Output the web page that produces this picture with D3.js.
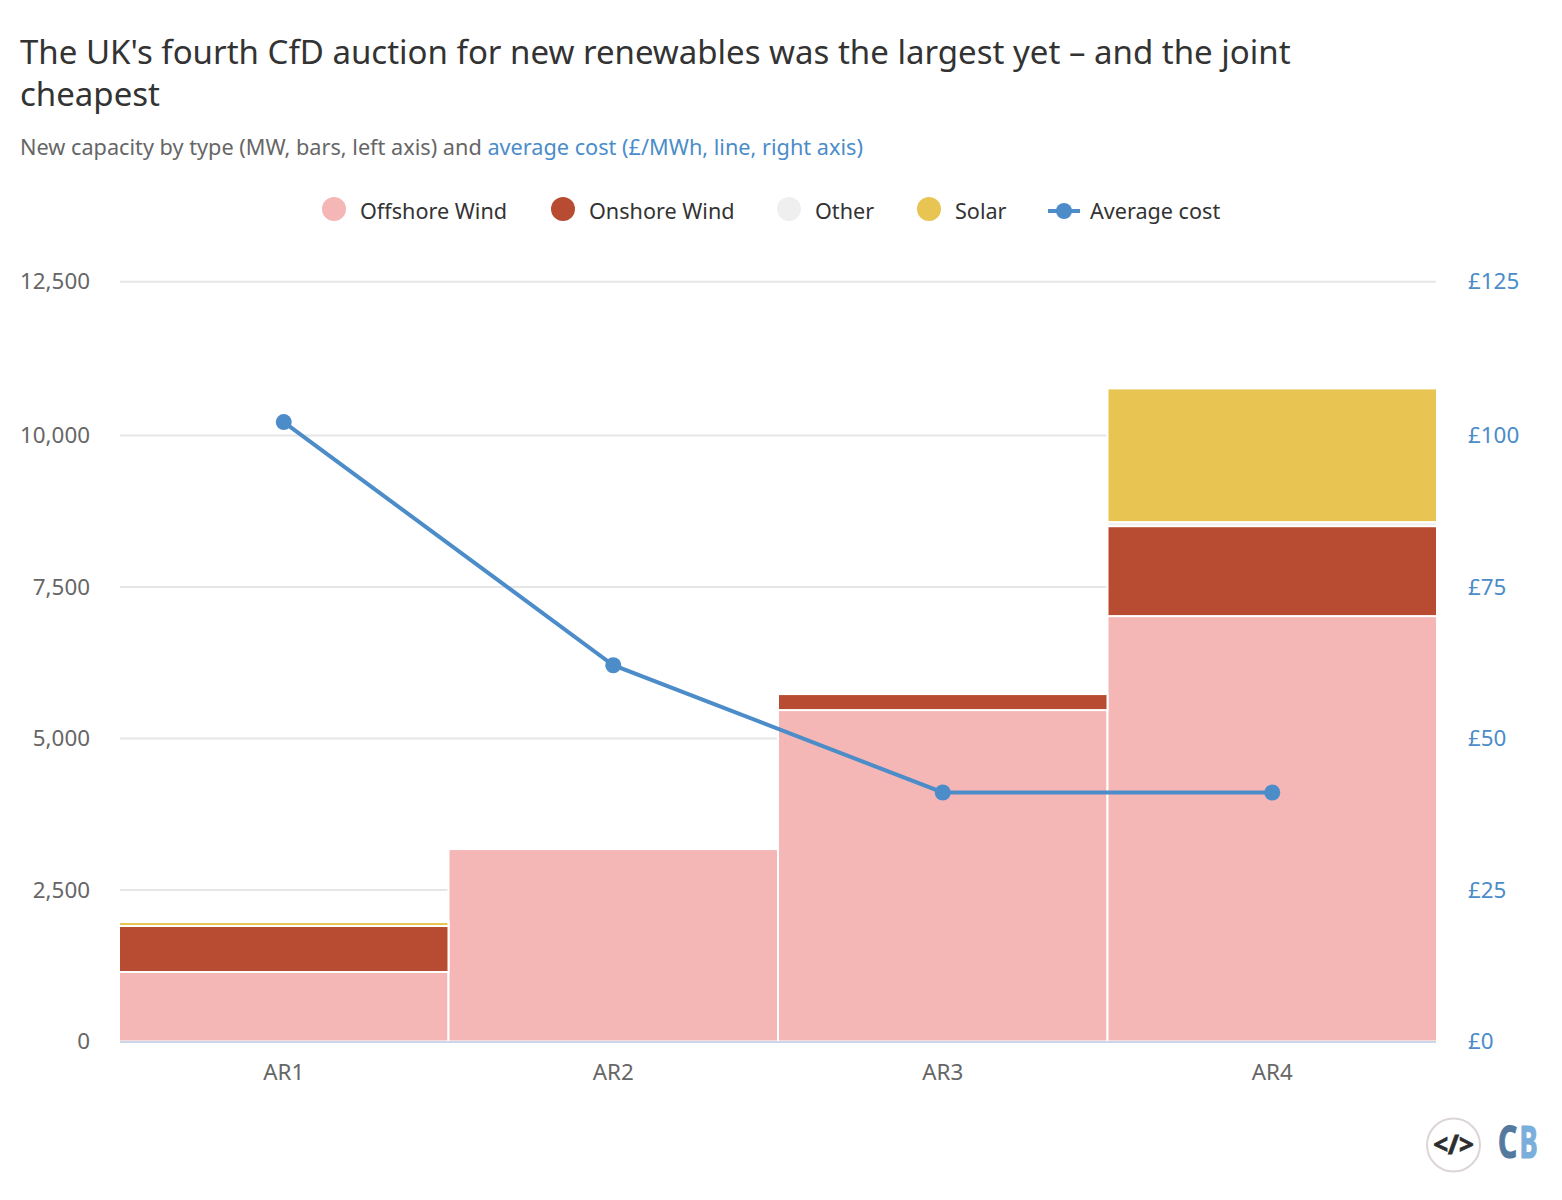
<!DOCTYPE html>
<html>
<style>
 body{ margin:0; background:#fff; }
 svg{ font-family:"Noto Sans",sans-serif; display:block; }
 .title{ font-size:33px; fill:#333; }
 .sub{ font-size:21.7px; fill:#666; }
 .leg{ font-size:21.6px; fill:#333; }
 .tick{ font-size:22.4px; fill:#666; }
 .tick.cost{ fill:#4b8cc9; }
</style>
<body>
<svg width="1562" height="1200"></svg>
<script src="https://d3js.org/d3.v7.min.js"></script>
<script>
var rounds = ["AR1","AR2","AR3","AR4"];
var offshore = [1147,3176,5470,7021];
var onshore = [759,0,264,1485];
var other = [0,0,0,66];
var solar = [66,0,0,2195];
var avgCost = [102.2,62.1,41.1,41.1];
var capTicks = [0,2500,5000,7500,10000,12500];
var costTicks = [0,25,50,75,100,125];
var seriesNames = ["Offshore Wind","Onshore Wind","Other","Solar"];
var colours = ["#f4b7b6","#b84c33","#efefef","#e8c552"];
var blue = "#4b8cc9";

var svg = d3.select("svg");
var left = 120, right = 1436, bottom = 1041.5;

// bars butt together, the white stroke makes the gaps
var x = d3.scaleBand().domain(rounds).range([left-1,right+1]);
// the top grid line sits a little high in the picture, so the scale has a knee at 10,000
var y = d3.scaleLinear().domain([0,10000,12500]).range([bottom,435.6,281.8]);
var y2 = d3.scaleLinear().domain([0,100,125]).range([bottom,435.6,281.8]);

// title
svg.append("text").attr("class","title").attr("x",20).attr("y",64)
   .text("The UK's fourth CfD auction for new renewables was the largest yet \u2013 and the joint");
svg.append("text").attr("class","title").attr("x",20).attr("y",106).text("cheapest");
var sub = svg.append("text").attr("class","sub").attr("x",20).attr("y",155);
sub.append("tspan").text("New capacity by type (MW, bars, left axis) and ");
sub.append("tspan").attr("fill",blue).text("average cost (\u00a3/MWh, line, right axis)");

// legend
var legX = [334,563,789,929];
seriesNames.forEach(function(n,i){
    svg.append("circle").attr("cx",legX[i]).attr("cy",209).attr("r",12).attr("fill",colours[i]);
    svg.append("text").attr("class","leg").attr("x",legX[i]+26).attr("y",219).text(n);
});
svg.append("line").attr("x1",1048).attr("x2",1080).attr("y1",211).attr("y2",211)
   .attr("stroke",blue).attr("stroke-width",4);
svg.append("circle").attr("cx",1064).attr("cy",211).attr("r",8).attr("fill",blue);
svg.append("text").attr("class","leg").attr("x",1090).attr("y",219).text("Average cost");

// grid and axes
svg.selectAll(".grid").data(capTicks.slice(1)).enter().append("line")
   .attr("class","grid")
   .attr("x1",left).attr("x2",right)
   .attr("y1",function(d){ return y(d); }).attr("y2",function(d){ return y(d); })
   .attr("stroke","#e6e6e6").attr("stroke-width",2);
svg.selectAll(".capLab").data(capTicks).enter().append("text")
   .attr("class","tick capLab").attr("x",90).attr("text-anchor","end")
   .attr("y",function(d){ return y(d)+7.5; })
   .text(d3.format(","));
svg.selectAll(".costLab").data(costTicks).enter().append("text")
   .attr("class","tick cost costLab").attr("x",1468)
   .attr("y",function(d){ return y2(d)+7.5; })
   .text(function(d){ return "\u00a3"+d; });
svg.selectAll(".xLab").data(rounds).enter().append("text")
   .attr("class","tick xLab").attr("text-anchor","middle")
   .attr("x",function(d){ return x(d)+x.bandwidth()/2; }).attr("y",1080)
   .text(function(d){ return d; });

// stacked bars
var rows = rounds.map(function(r,i){
    return {round:r,"Offshore Wind":offshore[i],"Onshore Wind":onshore[i],"Other":other[i],"Solar":solar[i]};
});
var stack = d3.stack().keys(seriesNames)(rows);
svg.selectAll(".layer").data(stack).enter().append("g")
   .attr("class","layer").attr("fill",function(d,i){ return colours[i]; })
   .selectAll("rect").data(function(d){ return d.filter(function(p){ return p[1]>p[0]; }); })
   .enter().append("rect")
   .attr("x",function(d){ return x(d.data.round); })
   .attr("width",x.bandwidth())
   .attr("y",function(d){ return y(d[1]); })
   .attr("height",function(d){ return y(d[0])-y(d[1]); })
   .attr("stroke","#fff").attr("stroke-width",2);

svg.append("line").attr("x1",left).attr("x2",right).attr("y1",bottom+0.5).attr("y2",bottom+0.5)
   .attr("stroke","#ccd6eb").attr("stroke-width",2);

// cost line
var line = d3.line()
   .x(function(d,i){ return x(rounds[i])+x.bandwidth()/2; })
   .y(function(d){ return y2(d); });
svg.append("path").datum(avgCost).attr("d",line).attr("fill","none")
   .attr("stroke",blue).attr("stroke-width",4);
svg.selectAll(".pt").data(avgCost).enter().append("circle")
   .attr("class","pt").attr("r",8).attr("fill",blue)
   .attr("cx",function(d,i){ return x(rounds[i])+x.bandwidth()/2; })
   .attr("cy",function(d){ return y2(d); });

// embed icon and logo
svg.append("circle").attr("cx",1453.5).attr("cy",1145).attr("r",26.5)
   .attr("fill","#fff").attr("stroke","#ddd5d5").attr("stroke-width",2);
svg.append("text").attr("x",1453.5).attr("y",1154).attr("text-anchor","middle")
   .attr("font-size",26).attr("font-weight","bold").attr("fill","#2d2d2d")
   .attr("stroke","#2d2d2d").attr("stroke-width",0.8).text("</>");
svg.append("text").attr("transform","translate(1498,1157.5) scale(0.68,1)")
   .attr("font-size",44).attr("font-weight","bold")
   .attr("fill","#54799f").attr("stroke","#54799f").attr("stroke-width",1.2).text("C");
svg.append("text").attr("transform","translate(1519.5,1157.5) scale(0.62,1)")
   .attr("font-size",44).attr("font-weight","bold")
   .attr("fill","#7aaedb").attr("stroke","#7aaedb").attr("stroke-width",1.2).text("B");
</script>
</body>
</html>
